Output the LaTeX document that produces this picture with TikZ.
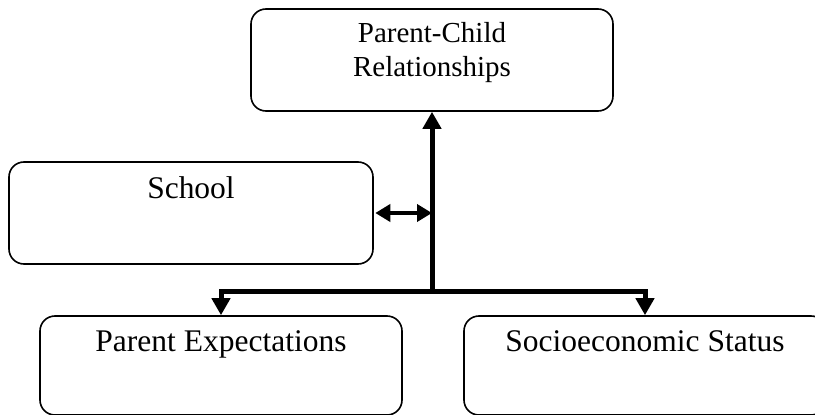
\documentclass[tikz,border=0pt]{standalone}
\usepackage{fontspec}
\setmainfont{Liberation Serif}
\usetikzlibrary{arrows.meta}
\begin{document}
\begin{tikzpicture}[x=1pt,y=-1pt,
  box/.style={draw, line width=1.6pt, rounded corners=15pt, minimum width=362pt, minimum height=#1, inner sep=0pt},
  box/.default=102pt,
  lbl/.style={font=\fontsize{31.5}{34}\selectfont, inner sep=0pt, anchor=base, align=center},
  flow/.style={line width=5pt, line join=miter},
  bigtip/.tip={Triangle[length=17pt,width=18pt]},
  smalltip/.tip={Triangle[length=15pt,width=17pt]}]
  \useasboundingbox (0,0) rectangle (815,415);

  % boxes
  \node[box] (pcr) at (432,60) {};
  \node[box, minimum width=364pt] (school) at (191,213) {};
  \node[box=99pt] (pe) at (221,365.5) {};
  \node[box=99pt] (ses) at (645,365.5) {};

  % labels (the base anchor of a two-line label sits on its last line)
  \node[lbl, font=\fontsize{29}{34}\selectfont] (pcrtxt) at ([yshift=-68pt]pcr.north) {Parent-Child\\Relationships};
  \node[lbl] (schooltxt) at ([yshift=-37pt]school.north) {School};
  \node[lbl] (petxt) at ([yshift=-36.5pt]pe.north) {Parent Expectations};
  \node[lbl] (sestxt) at ([yshift=-36.5pt]ses.north) {Socioeconomic Status};

  % connectors
  \coordinate (jn) at (432,291.5);
  \draw[flow, -{bigtip}] (jn) -- (pcr.south);
  \draw[flow, {bigtip}-{bigtip}] (pe.north) |- (jn) -| (ses.north);
  \draw[line width=4pt, {smalltip}-{smalltip}] ([xshift=1.5pt]school.east) -- (school.east -| jn);
\end{tikzpicture}
\end{document}
